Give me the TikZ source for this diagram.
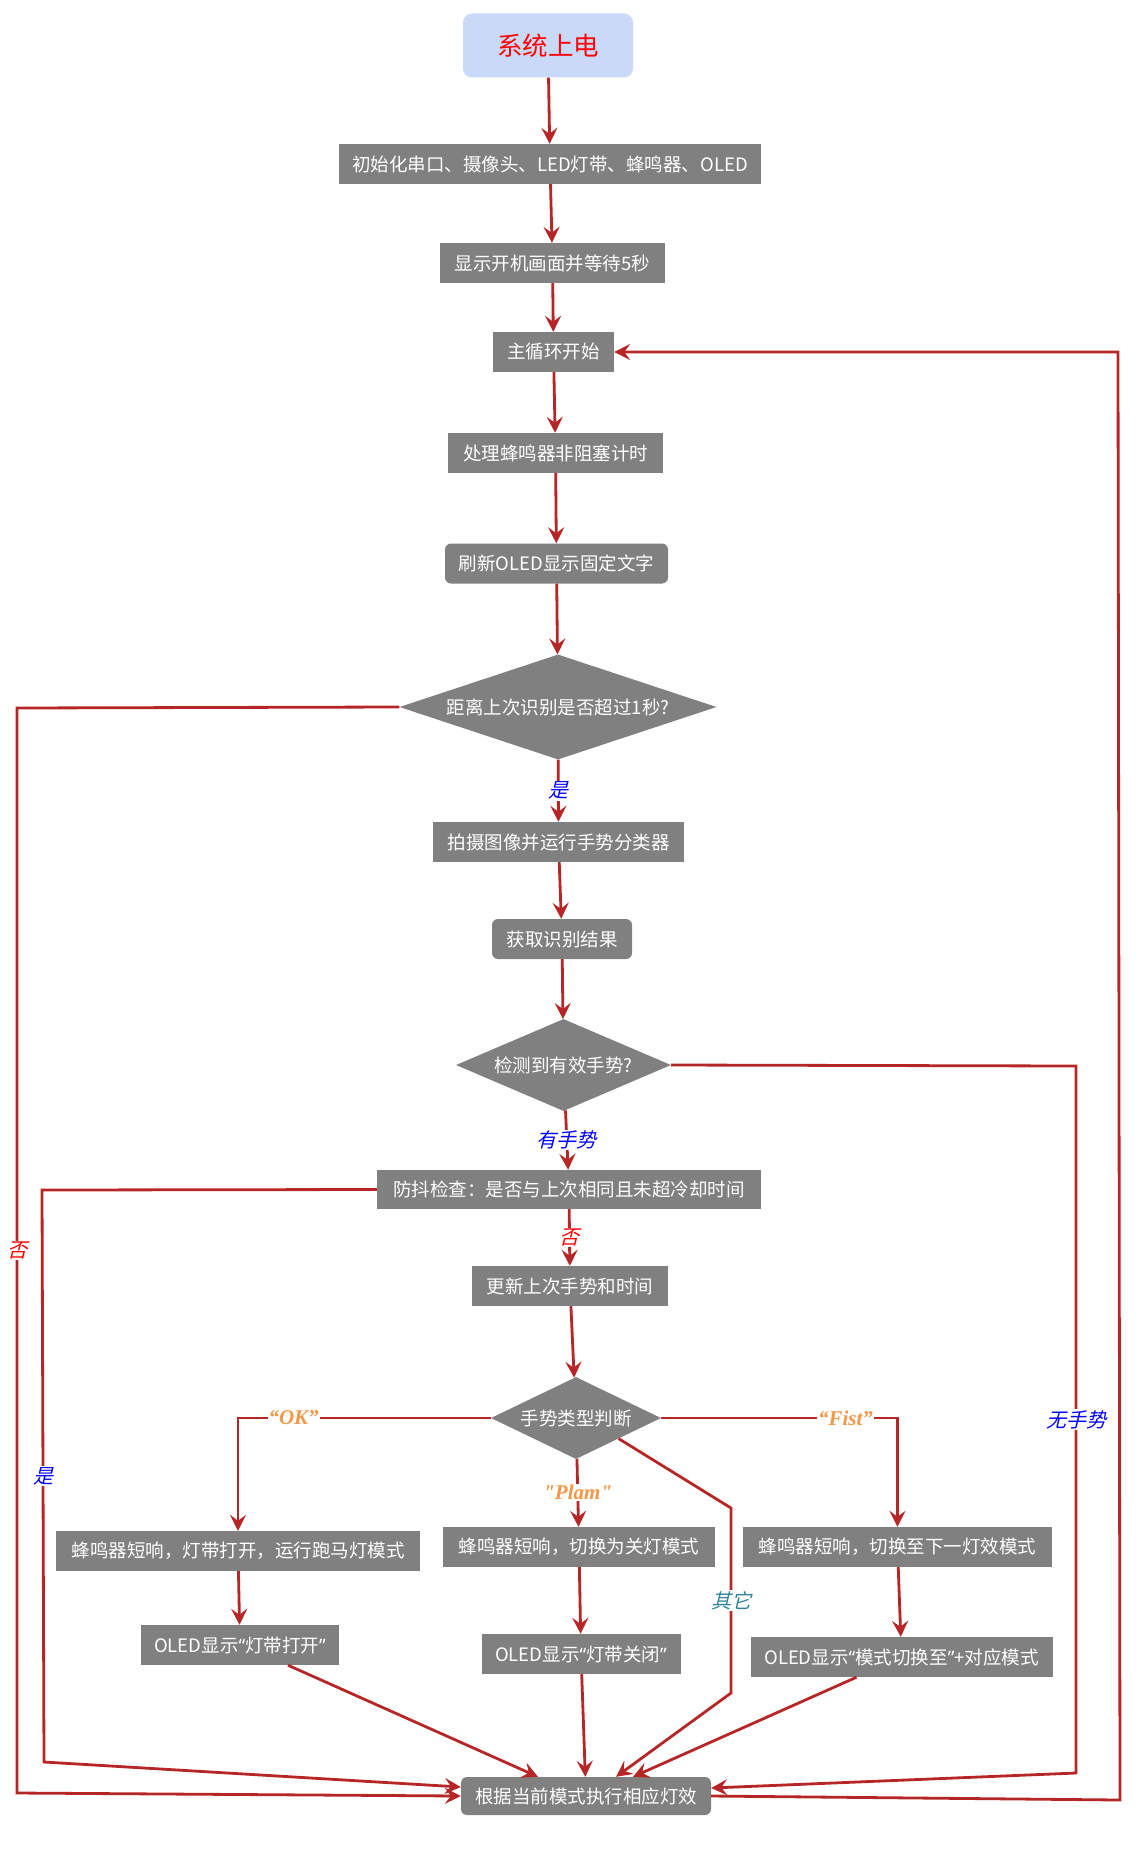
\documentclass[tikz,border=0pt]{standalone}
\usepackage{fontspec}
\setmainfont{Noto Sans CJK SC}
\newfontfamily\cjkit{Noto Sans CJK SC}[FakeSlant=0.25]
\newfontfamily\latser{Liberation Serif}
\newfontfamily\qfont{Noto Sans}
\newcommand\myoq{{\qfont “}}
\newcommand\mycq{{\qfont ”}}
\usetikzlibrary{arrows.meta,shapes.geometric,calc}
\definecolor{lnred}{RGB}{183,38,38}
\definecolor{boxgray}{RGB}{128,128,128}
\definecolor{startblue}{RGB}{201,218,248}
\definecolor{orng}{RGB}{247,150,70}
\definecolor{tealc}{RGB}{49,132,155}
\begin{document}
\begin{tikzpicture}[x=1pt,y=-1pt,
  boxfont/.style={font=\fontsize{18.5}{20}\selectfont},
  proc/.style={fill=boxgray,text=white,boxfont,inner sep=0pt,minimum height=40pt},
  rproc/.style={proc,rounded corners=6pt},
  startbox/.style={fill=startblue,text=red,font=\fontsize{25.5}{27}\selectfont,rounded corners=9pt,inner sep=0pt,minimum width=170pt,minimum height=64pt},
  dec/.style={shape=diamond,fill=boxgray,text=white,boxfont,inner sep=0pt,aspect=2},
  ln/.style={draw=lnred,line width=2.8pt},
  arr/.style={ln,-{Stealth[length=16pt,width=16pt,inset=6pt]}},
  lbl/.style={fill=white,inner sep=1pt},
  lblb/.style={lbl,text=blue,font=\cjkit\fontsize{20}{22}\selectfont},
  lblr/.style={lbl,text=red,font=\cjkit\fontsize{20}{22}\selectfont},
  lblt/.style={lbl,text=tealc,font=\cjkit\fontsize{20}{22}\selectfont},
  lblo/.style={lbl,text=orng,font=\latser\bfseries\itshape\fontsize{21}{23}\selectfont}
]
\useasboundingbox (0,0) rectangle (1144,1854);

% nodes
\node[startbox] (start) at (548,45.5) {系统上电};
\node[proc,minimum width=422pt] (init) at (550,164) {初始化串口、摄像头、LED灯带、蜂鸣器、OLED};
\node[proc,minimum width=225pt] (disp) at (552.5,263) {显示开机画面并等待5秒};
\node[proc,minimum width=121pt] (loop) at (553.5,352) {主循环开始};
\node[proc,minimum width=215pt] (buzz) at (555.5,453) {处理蜂鸣器非阻塞计时};
\node[rproc,minimum width=223pt] (refresh) at (556.5,563.5) {刷新OLED显示固定文字};
\node[dec,aspect=3.2,minimum width=317pt,minimum height=105pt] (d1) at (558,707) {距离上次识别是否超过1秒?};
\node[proc,minimum width=251pt] (cap) at (558.5,842) {拍摄图像并运行手势分类器};
\node[rproc,minimum width=140pt] (get) at (562,939) {获取识别结果};
\node[dec,aspect=2.4,minimum width=215pt,minimum height=92pt] (d2) at (563.5,1065) {检测到有效手势?};
\node[proc,minimum width=384pt,minimum height=39pt] (anti) at (569,1189.5) {防抖检查：是否与上次相同且未超冷却时间};
\node[proc,minimum width=196pt] (upd) at (570,1286) {更新上次手势和时间};
\node[dec,minimum width=170pt,minimum height=82pt] (d3) at (576,1418) {手势类型判断};
\node[proc,minimum width=364pt] (ok1) at (238,1551) {蜂鸣器短响，灯带打开，运行跑马灯模式};
\node[proc,minimum width=198pt] (ok2) at (240,1645) {OLED显示\myoq 灯带打开\mycq};
\node[proc,minimum width=272pt] (pl1) at (579,1547) {蜂鸣器短响，切换为关灯模式};
\node[proc,minimum width=199pt] (pl2) at (581,1654) {OLED显示\myoq 灯带关闭\mycq};
\node[proc,minimum width=309pt] (fi1) at (897.5,1547) {蜂鸣器短响，切换至下一灯效模式};
\node[proc,minimum width=302pt] (fi2) at (901.5,1657) {OLED显示\myoq 模式切换至\mycq+对应模式};
\node[rproc,minimum width=250pt,minimum height=38pt] (fin) at (586,1796) {根据当前模式执行相应灯效};

% free bend points
\coordinate (n1) at (17,708);
\coordinate (n2) at (17,1793);
\coordinate (y1) at (42,1190);
\coordinate (y2) at (44,1762);
\coordinate (g1) at (1076,1066);
\coordinate (g2) at (1076,1773);
\coordinate (r1) at (1120,1800);
\coordinate (r2) at (1118,352);
\coordinate (o1) at (731,1508);
\coordinate (o2) at (731,1693);

% main chain
\draw[arr] (start) -- (init);
\draw[arr] (init) -- (disp);
\draw[arr] (disp) -- (loop);
\draw[arr] (loop) -- (buzz);
\draw[arr] (buzz) -- (refresh);
\draw[arr] (refresh) -- (d1);
\draw[arr] (d1) -- node[lblb]{是} (cap);
\draw[arr] (cap) -- (get);
\draw[arr] (get) -- (d2);
\draw[arr] (d2) -- node[lblb]{有手势} (anti);
\draw[arr] (anti) -- node[lblr]{否} (upd);
\draw[arr] (upd) -- (d3);

% gesture branches
\draw[arr] (d3.west) -| node[lblo,pos=0.39]{“OK”} (ok1.north);
\draw[arr] (ok1) -- (ok2);
\draw[arr] ([xshift=48pt]ok2.south) -- ([xshift=-48pt]fin.north);
\draw[arr] (d3) -- node[lblo]{"Plam"} (pl1);
\draw[arr] (pl1) -- (pl2);
\draw[arr] (pl2) -- (fin);
\draw[arr] (d3.east) -| node[lblo,pos=0.39]{“Fist”} (fi1.north);
\draw[arr] (fi1) -- (fi2);
\draw[arr] ([xshift=-45pt]fi2.south) -- ([xshift=47pt]fin.north);
\draw[arr] (d3.south east) -- (o1) -- node[lblt]{其它} (o2) -- ([xshift=30pt]fin.north);

% side returns
\draw[arr] (d1.west) -- (n1) -- node[lblr]{否} (n2) -- (fin.west);
\draw[arr] (anti.west) -- (y1) -- node[lblb]{是} (y2) -- ([yshift=9pt]fin.west);
\draw[arr] (d2.east) -- (g1) -- node[lblb]{无手势} (g2) -- ([yshift=8pt]fin.east);
\draw[arr] (fin.east) -- (r1) -- (r2) -- (loop.east);
\end{tikzpicture}
\end{document}
